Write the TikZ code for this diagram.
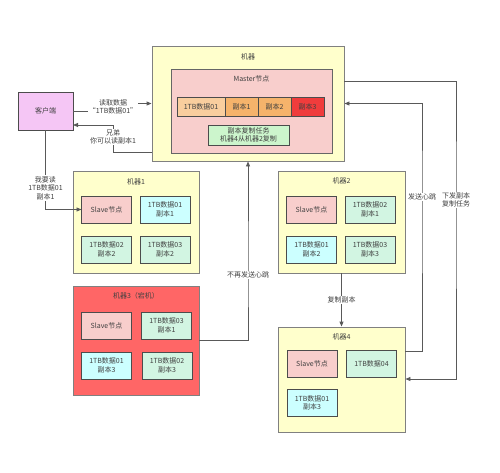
\documentclass[tikz,border=0pt]{standalone}
\usepackage{fontspec}
\setmainfont{Noto Sans CJK SC}
\usetikzlibrary{arrows.meta,positioning}
\definecolor{machinec}{HTML}{FFFFCC}
\definecolor{downc}{HTML}{FF6666}
\definecolor{masterc}{HTML}{F8CECC}
\definecolor{clientc}{HTML}{F5C6F5}
\definecolor{cyanc}{HTML}{CCFFFF}
\definecolor{greenc}{HTML}{D2F5E2}
\definecolor{taskc}{HTML}{CCF5CC}
\definecolor{orangelt}{HTML}{F9CE9E}
\definecolor{orangemd}{HTML}{F5B36B}
\definecolor{redc}{HTML}{F03C3C}
\tikzset{>={Triangle[length=5pt,width=4pt]}}

\begin{document}
\begin{tikzpicture}[x=1pt,y=-1pt,font=\fontsize{7}{8.5}\selectfont,
  machine/.style={draw=black!50, line width=0.9pt, fill=machinec, inner sep=0pt},
  cell/.style={draw=black!70, line width=0.9pt, align=center, inner sep=0pt, outer sep=0pt, text=black!75},
  dcell/.style={cell, minimum width=50, minimum height=27},
  slave/.style={dcell, fill=masterc},
  conn/.style={draw=black!65, line width=0.9pt, ->},
  lbl/.style={fill=white, inner sep=1pt, align=center, text=black!75}]
\useasboundingbox (0,0) rectangle (500,472);

% master machine
\node[machine, minimum width=192, minimum height=115] (m0) at (248,103.5) {};
\node[text=black!75] (m0t) at (248,57) {机器};
\node[cell, draw=black!60, fill=masterc, minimum width=161, minimum height=84] (mst) at (251.5,111) {};
\node[text=black!75] (mstt) at (251.5,79) {Master节点};
\node[cell, fill=orangelt, minimum width=48, minimum height=19] (d1) at (201,106.5) {1TB数据01};
\node[cell, fill=orangemd, minimum width=33, minimum height=19, right=0pt of d1] (r1) {副本1};
\node[cell, fill=orangemd, minimum width=33, minimum height=19, right=0pt of r1] (r2) {副本2};
\node[cell, fill=redc, minimum width=33, minimum height=19, right=0pt of r2] (r3) {副本3};
\node[cell, fill=taskc, minimum width=81, minimum height=20] (task) at (248.5,135) {副本复制任务\\机器4从机器2复制};

% client
\node[cell, fill=clientc, minimum width=55, minimum height=38] (client) at (45.5,111) {客户端};

% machine 1
\node[machine, minimum width=126, minimum height=102] (m1) at (136,222) {};
\node[text=black!75] (m1t) at (136,182) {机器1};
\node[slave] (s1) at (106.5,209.5) {Slave节点};
\node[dcell, fill=cyanc] (m1a) at (165,209.5) {1TB数据01\\副本1};
\node[dcell, fill=greenc] (m1b) at (106.5,249.5) {1TB数据02\\副本2};
\node[dcell, fill=greenc] (m1c) at (165,249.5) {1TB数据03\\副本2};

% machine 2
\node[machine, minimum width=127, minimum height=102] (m2) at (341.5,222) {};
\node[text=black!75] (m2t) at (341.5,181) {机器2};
\node[slave] (s2) at (311.5,209.5) {Slave节点};
\node[dcell, fill=greenc] (m2a) at (370,209.5) {1TB数据02\\副本1};
\node[dcell, fill=cyanc] (m2b) at (311.5,249.5) {1TB数据01\\副本2};
\node[dcell, fill=greenc] (m2c) at (370,249.5) {1TB数据03\\副本3};

% machine 3 (down)
\node[machine, fill=downc, minimum width=126, minimum height=109] (m3) at (136,340.5) {};
\node[text=black!75] (m3t) at (136,296) {机器3（宕机）};
\node[slave] (s3) at (106.5,325.5) {Slave节点};
\node[dcell, fill=greenc] (m3a) at (166.5,325.5) {1TB数据03\\副本1};
\node[dcell, fill=cyanc] (m3b) at (106.5,365.5) {1TB数据01\\副本3};
\node[dcell, fill=greenc] (m3c) at (167,365.5) {1TB数据02\\副本3};

% machine 4
\node[machine, minimum width=127, minimum height=105] (m4) at (341.5,379.5) {};
\node[text=black!75] (m4t) at (341.5,337) {机器4};
\node[slave] (s4) at (312,363.5) {Slave节点};
\node[dcell, fill=greenc] (m4a) at (371.5,363.5) {1TB数据04};
\node[dcell, fill=cyanc] (m4b) at (312,403) {1TB数据01\\副本3};

% connectors
\draw[conn] (client.east) -- (113,111) node[lbl, yshift=4pt] {读取数据\\“1TB数据01”} |- (m0.west);
\draw[conn] (m0.west |- 0,152) -| (113,137) node[lbl] {兄弟\\你可以读副本1} |- (client.east |- 0,125);
\draw[conn] (client.south) -- (client.south |- 0,188) node[lbl] {我要读\\1TB数据01\\副本1} |- (s1.west);
\draw[conn] (m3.east) -| (248,275) node[lbl] {不再发送心跳} -- (m0.south);
\draw[conn] (m2.south) -- node[lbl] {复制副本} (m4.north);
\draw[conn] (m4.east |- 0,351) -| (422,197) node[lbl] {发送心跳} |- (m0.east);
\draw[conn] (m0.east |- 0,81) -| (456,200) node[lbl] {下发副本\\复制任务} |- (m4.east |- 0,379);
\end{tikzpicture}
\end{document}
